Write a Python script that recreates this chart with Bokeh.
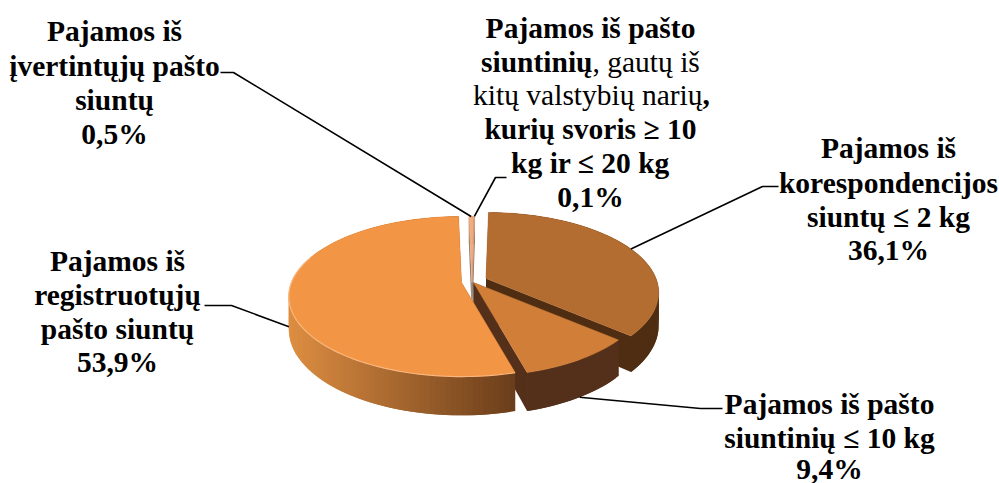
import math
from bokeh.plotting import figure
from bokeh.models import Range1d
from bokeh.core.properties import value
from bokeh.embed import file_html
from bokeh.resources import INLINE

# ---- data
categories = ["Pajamos iš registruotųjų pašto siuntų",
              "Pajamos iš įvertintųjų pašto siuntų",
              "Pajamos iš pašto siuntinių, gautų iš kitų valstybių narių, kurių svoris ≥ 10 kg ir ≤ 20 kg",
              "Pajamos iš korespondencijos siuntų ≤ 2 kg",
              "Pajamos iš pašto siuntinių ≤ 10 kg"]
shares = [53.9, 0.5, 0.1, 36.1, 9.4]

# ---- styles and layout of the pie
first_angle = 164.8
top_colors = ["#F29544", "#F2AC80", "#E9A37D", "#B46D30", "#D17F38"]
wall_colors = ["#DE8E42", "#8A7A6A", "#8A7A6A", "#4E2D13", "#54301A"]
apex_x = [461, 471.3, 471.8, 485.5, 473]
apex_y = [282, 282, 282, 278, 282]
draw_order = [1, 2, 3, 4, 0]
A, B, C, T = 77.6, 170.0, 0.175, 32.0

p = figure(width=999, height=483, output_backend="svg", toolbar_location=None,
           x_range=Range1d(0, 999), y_range=Range1d(483, 0), min_border=0,
           margin=(0, 0, 0, 0))
p.axis.visible = False
p.grid.visible = False
p.outline_line_color = None
p.background_fill_color = "white"
p.border_fill_color = "white"


def rim(ax, ay, deg, depth=0.0):
    r = math.radians(deg)
    x, y = math.sin(r), math.cos(r)
    k = 1 + C * y
    return ax + B * x / k, ay - A * y / k + depth * 1.0 / k


def mix(c1, c2, t):
    a = [int(c1[i:i + 2], 16) for i in (1, 3, 5)]
    b = [int(c2[i:i + 2], 16) for i in (1, 3, 5)]
    return "#%02x%02x%02x" % tuple(round(u + (v - u) * t) for u, v in zip(a, b))


# angular extent of each slice, clockwise from the top
spans = []
a0 = first_angle
for s in shares:
    a1 = a0 + s * 3.6
    spans.append((a0, a1))
    a0 = a1

for i in draw_order:
    a0, a1 = spans[i]
    ax, ay = apex_x[i], apex_y[i]
    n = max(2, int((a1 - a0) / 1.5))
    angs = [a0 + (a1 - a0) * j / n for j in range(n + 1)]

    # cut faces
    for edge in (a0, a1):
        rx, ry = rim(ax, ay, edge)
        bx, by = rim(ax, ay, edge, T)
        col = "#54301A" if i == 0 else wall_colors[i]
        p.patch([ax, rx, bx, ax], [ay, ry, by, ay + T], fill_color=col, line_color=None)

    # outer wall, painted in overlapping strips (shaded by position for the big slice)
    xs, ys, cols = [], [], []
    for j in range(n):
        jn = min(n, j + 2)
        x0, y0 = rim(ax, ay, angs[j])
        x1, y1 = rim(ax, ay, angs[jn])
        x2, y2 = rim(ax, ay, angs[jn], T)
        x3, y3 = rim(ax, ay, angs[j], T)
        xs.append([x0, x1, x2, x3])
        ys.append([y0, y1, y2, y3])
        if i == 0:
            xm, _ = rim(ax, ay, (angs[j] + angs[j + 1]) / 2)
            t = min(1, max(0, (xm - 288) / (515 - 288)))
            cols.append(mix("#DE8E42", "#6A3D1A", t))
        else:
            cols.append(wall_colors[i])
    p.patches(xs, ys, fill_color=cols, line_color=None)

    # top face
    top = [rim(ax, ay, d) for d in angs]
    p.patch([ax] + [q[0] for q in top], [ay] + [q[1] for q in top],
            fill_color=top_colors[i], line_color=top_colors[i], line_width=0.5)

    # light bevel on the front edge of the big slice
    if i == 0:
        front = [q for q, d in zip(top, angs) if d < 290]
        p.line([q[0] for q in front], [q[1] for q in front], line_color="#F9B67E", line_width=1.2)


def mid_angle(i):
    return sum(spans[i]) / 2


# ---- leader lines
def leader(points, i, depth):
    ex, ey = rim(apex_x[i], apex_y[i], mid_angle(i), depth)
    xs = [q[0] for q in points] + [ex]
    ys = [q[1] for q in points] + [ey]
    p.line(xs, ys, line_color="black", line_width=1.6)


leader([(220, 72), (233, 72)], 1, 0)
leader([(506, 177), (495, 177)], 2, 0)
leader([(778, 186), (762, 186)], 3, 0)
leader([(204, 305), (231, 305)], 0, T)
leader([(722, 408), (700, 408)], 4, T)

# ---- labels: (x, y, text, bold, align)
FS = "29.5px"
labels = [
    (114, 30, "Pajamos iš", True, "center"),
    (114, 65, "įvertintųjų pašto", True, "center"),
    (114, 99, "siuntų", True, "center"),
    (114, 133, "0,5%", True, "center"),
    (590, 27, "Pajamos iš pašto", True, "center"),
    (592, 61, "siuntinių", True, "right"),
    (592, 61, ", gautų iš", False, "left"),
    (702, 94, "kitų valstybių narių", False, "right"),
    (702, 94, ",", True, "left"),
    (590, 128, "kurių svoris ≥ 10", True, "center"),
    (590, 162, "kg ir ≤ 20 kg", True, "center"),
    (590, 196, "0,1%", True, "center"),
    (888, 147, "Pajamos iš", True, "center"),
    (888, 182, "korespondencijos", True, "center"),
    (888, 216, "siuntų ≤ 2 kg", True, "center"),
    (888, 249, "36,1%", True, "center"),
    (117, 260, "Pajamos iš", True, "center"),
    (117, 294, "registruotųjų", True, "center"),
    (117, 328, "pašto siuntų", True, "center"),
    (117, 361, "53,9%", True, "center"),
    (829, 403, "Pajamos iš pašto", True, "center"),
    (829, 437, "siuntinių ≤ 10 kg", True, "center"),
    (829, 468, "9,4%", True, "center"),
]
for x, y, s, bold, align in labels:
    p.text([x], [y], text=[s], text_font=value("Liberation Serif"), text_font_size=FS,
           text_font_style="bold" if bold else "normal", text_color="black",
           text_align=align, text_baseline="middle")

open("out.html", "w").write(file_html(p, INLINE))
